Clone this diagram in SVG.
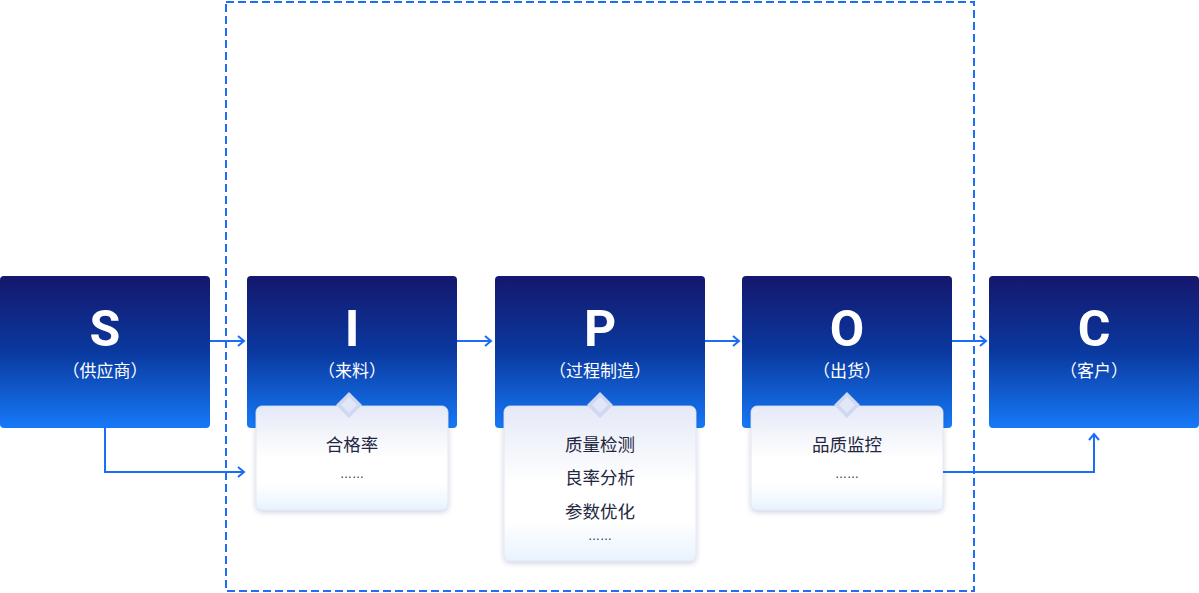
<svg xmlns="http://www.w3.org/2000/svg" width="1199" height="593" viewBox="0 0 1199 593">
<defs>
<linearGradient id="boxGrad" x1="0" y1="0" x2="0" y2="1">
<stop offset="0" stop-color="#15176d"/>
<stop offset="0.5" stop-color="#0a399f"/>
<stop offset="1" stop-color="#1679f8"/>
</linearGradient>
<linearGradient id="cardGrad" x1="0" y1="0" x2="0" y2="1">
<stop offset="0" stop-color="#e5e9f7"/>
<stop offset="0.5" stop-color="#ffffff"/>
<stop offset="0.75" stop-color="#ffffff"/>
<stop offset="1" stop-color="#e8f3fe"/>
</linearGradient>
<filter id="shadow" x="-10%" y="-10%" width="120%" height="130%">
<feDropShadow dx="0" dy="2" stdDeviation="2.5" flood-color="#1e2d6e" flood-opacity="0.22"/>
</filter>
<marker id="arrow" viewBox="0 0 10 12" refX="8" refY="6" markerWidth="10" markerHeight="12" markerUnits="userSpaceOnUse" orient="auto">
<path d="M2,1 L8,6 L2,11" fill="none" stroke="#1a6df5" stroke-width="2"/>
</marker>
</defs>
<style>
.box{fill:url(#boxGrad);}
.letter{font-family:Roboto,"Liberation Sans",sans-serif;font-weight:700;font-size:50px;fill:#ffffff;text-anchor:middle;}
.sub{font-family:"Noto Sans CJK SC","Noto Sans",sans-serif;font-size:17px;fill:#ffffff;text-anchor:middle;}
.card{fill:url(#cardGrad);stroke:#dde2f0;stroke-width:0.8;filter:url(#shadow);}
.ct{font-family:"Noto Sans CJK SC","Noto Sans",sans-serif;font-size:17.5px;fill:#23263f;text-anchor:middle;}
.dots{font-family:"Liberation Sans",sans-serif;font-size:12px;fill:#23263f;text-anchor:middle;}
.dia-o{fill:#cfd7f3;}
.dia-i{fill:#e2e7f8;}
.conn{fill:none;stroke:#1a6df5;stroke-width:2;}
.frame{fill:none;stroke:#1f6ff6;stroke-width:2;stroke-dasharray:8 4;}
</style>
<rect class="frame" x="226" y="2" width="748" height="589"/>
<g id="node-S">
<rect class="box" x="0" y="276" width="210" height="152" rx="4"/>
<text class="letter" x="105" y="346">S</text>
<text class="sub" x="105" y="377">（供应商）</text>
</g>
<g id="node-I">
<rect class="box" x="247" y="276" width="210" height="152" rx="4"/>
<text class="letter" x="352" y="346">I</text>
<text class="sub" x="352" y="377">（来料）</text>
</g>
<g id="node-P">
<rect class="box" x="495" y="276" width="210" height="152" rx="4"/>
<text class="letter" x="600" y="346">P</text>
<text class="sub" x="600" y="377">（过程制造）</text>
</g>
<g id="node-O">
<rect class="box" x="742" y="276" width="210" height="152" rx="4"/>
<text class="letter" x="847" y="346">O</text>
<text class="sub" x="847" y="377">（出货）</text>
</g>
<g id="node-C">
<rect class="box" x="989" y="276" width="210" height="152" rx="4"/>
<text class="letter" x="1094" y="346">C</text>
<text class="sub" x="1094" y="377">（客户）</text>
</g>
<g id="card-I">
<rect class="card" x="256" y="406" width="192" height="104" rx="6"/>
<path class="dia-o" d="M349,392 L362,405 L349,418 L336,405 Z"/>
<path class="dia-i" d="M349,397 L357,405 L349,413 L341,405 Z"/>
<text class="ct" x="352" y="451">合格率</text>
<text class="dots" x="352" y="478">……</text>
</g>
<g id="card-P">
<rect class="card" x="504" y="406" width="192" height="155" rx="6"/>
<path class="dia-o" d="M600,392 L613,405 L600,418 L587,405 Z"/>
<path class="dia-i" d="M600,397 L608,405 L600,413 L592,405 Z"/>
<text class="ct" x="600" y="451">质量检测</text>
<text class="ct" x="600" y="484">良率分析</text>
<text class="ct" x="600" y="518">参数优化</text>
<text class="dots" x="600" y="540">……</text>
</g>
<g id="card-O">
<rect class="card" x="751" y="406" width="192" height="104" rx="6"/>
<path class="dia-o" d="M847,392 L860,405 L847,418 L834,405 Z"/>
<path class="dia-i" d="M847,397 L855,405 L847,413 L839,405 Z"/>
<text class="ct" x="847" y="451">品质监控</text>
<text class="dots" x="847" y="478">……</text>
</g>
<g id="connectors">
<path class="conn" d="M210,341 L244,341" marker-end="url(#arrow)"/>
<path class="conn" d="M457,341 L491,341" marker-end="url(#arrow)"/>
<path class="conn" d="M705,341 L739,341" marker-end="url(#arrow)"/>
<path class="conn" d="M952,341 L986,341" marker-end="url(#arrow)"/>
<path class="conn" d="M105,428 L105,472 L244,472" marker-end="url(#arrow)"/>
<path class="conn" d="M943,472 L1094,472 L1094,434" marker-end="url(#arrow)"/>
</g>
</svg>
